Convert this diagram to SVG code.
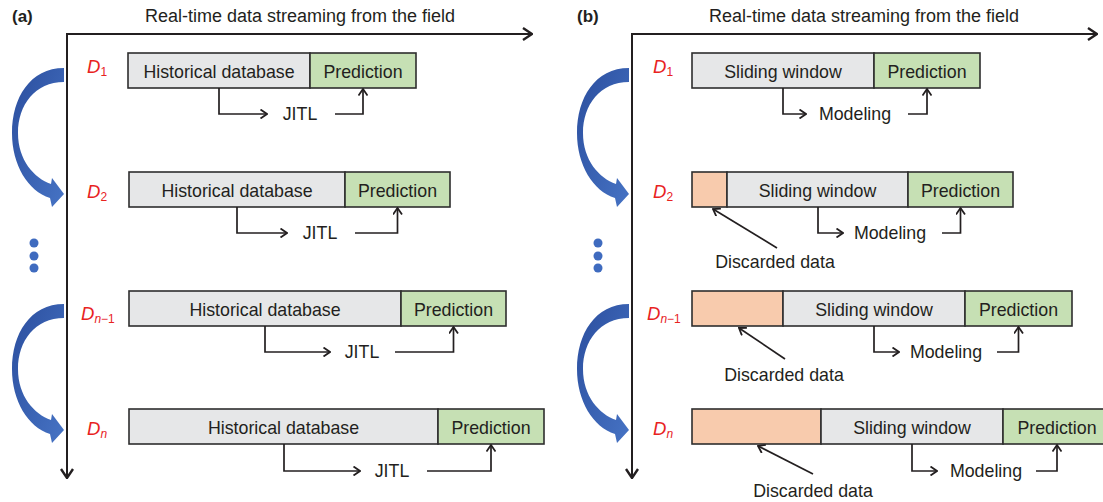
<svg xmlns="http://www.w3.org/2000/svg" width="1103" height="502" viewBox="0 0 1103 502">
  <style>
    text { font-family: "Liberation Sans", Arial, sans-serif; fill: #231F20; }
    .t { font-size: 17.8px; text-anchor: middle; }
    .title { font-size: 18px; text-anchor: middle; }
    .panel { font-size: 17px; font-weight: bold; }
    .lab { font-size: 18.5px; font-style: italic; fill: #E8231F; }
    .sub { font-size: 12px; font-style: normal; fill: #E8231F; }
    .subi { font-size: 12px; font-style: italic; fill: #E8231F; }
    .hist { fill: #E6E7E8; stroke: #2E2E2E; stroke-width: 1.6; }
    .pred { fill: #C6E0B4; stroke: #2E2E2E; stroke-width: 1.6; }
    .disc { fill: #F8CBAD; stroke: #2E2E2E; stroke-width: 1.6; }
    .conn { fill: none; stroke: #231F20; stroke-width: 1.7; marker-end: url(#chev); }
    .axis { fill: none; stroke: #231F20; stroke-width: 2; marker-end: url(#axhead); }
    .dot { fill: #3F6BBF; }
  </style>
  <defs>
    <marker id="chev" viewBox="-8 -5 9 10" markerWidth="9" markerHeight="10" refX="0" refY="0" orient="auto" markerUnits="userSpaceOnUse">
      <path d="M-6.5,-4.5 L0,0 L-6.5,4.5" fill="none" stroke="#231F20" stroke-width="1.8"/>
    </marker>
    <marker id="axhead" viewBox="-11 -7 12 14" markerWidth="12" markerHeight="14" refX="0" refY="0" orient="auto" markerUnits="userSpaceOnUse">
      <path d="M-9,-6 L0,0 L-9,6" fill="none" stroke="#231F20" stroke-width="2.4"/>
    </marker>
    <linearGradient id="blue" x1="0" y1="0" x2="1" y2="1">
      <stop offset="0" stop-color="#2B4E9E"/>
      <stop offset="1" stop-color="#4673C4"/>
    </linearGradient>
    <!-- curved block arrow stepping from one dataset to the next -->
    <path id="step" d="M64,68 C30,68 12,98 12,133 C12,165 28,191 50,198 L52,207 L64,194 L52,178 L51,184 C34,178 18,160 18,133 C18,105 35,82 64,82 Z" fill="url(#blue)"/>
  </defs>

  <!-- ===== Panel (a): just-in-time learning ===== -->
  <g id="panel-a-frame">
    <text class="panel" x="12" y="22">(a)</text>
    <text class="title" x="300" y="22">Real-time data streaming from the field</text>
    <path class="axis" d="M66,34 H532"/>
    <path class="axis" d="M67,33 V478"/>
    <use href="#step"/>
    <use href="#step" y="236"/>
    <circle class="dot" cx="34" cy="243" r="4.5"/>
    <circle class="dot" cx="34" cy="256" r="4.5"/>
    <circle class="dot" cx="34" cy="268" r="4.5"/>
  </g>

  <g id="a-d1">
    <text class="lab" x="87" y="73">D<tspan class="sub" dy="3">1</tspan></text>
    <rect class="hist" x="128" y="53" width="182" height="35"/>
    <rect class="pred" x="310" y="53" width="106" height="35"/>
    <text class="t" x="219" y="78">Historical database</text>
    <text class="t" x="363" y="78">Prediction</text>
    <text class="t" x="300" y="120">JITL</text>
  </g>
  <g id="a-d2">
    <text class="lab" x="87" y="198">D<tspan class="sub" dy="3">2</tspan></text>
    <rect class="hist" x="129" y="172" width="216" height="35"/>
    <rect class="pred" x="345" y="172" width="105" height="35"/>
    <text class="t" x="237" y="197">Historical database</text>
    <text class="t" x="397.5" y="197">Prediction</text>
    <text class="t" x="320" y="239">JITL</text>
  </g>
  <g id="a-dn1">
    <text class="lab" x="81" y="320">D<tspan class="subi" dy="3">n</tspan><tspan class="sub">−1</tspan></text>
    <rect class="hist" x="129" y="291" width="272" height="35"/>
    <rect class="pred" x="401" y="291" width="105" height="35"/>
    <text class="t" x="265" y="316">Historical database</text>
    <text class="t" x="453.5" y="316">Prediction</text>
    <text class="t" x="362" y="358">JITL</text>
  </g>
  <g id="a-dn">
    <text class="lab" x="87" y="435">D<tspan class="subi" dy="3">n</tspan></text>
    <rect class="hist" x="129" y="409" width="309" height="35"/>
    <rect class="pred" x="438" y="409" width="106" height="35"/>
    <text class="t" x="283.5" y="434">Historical database</text>
    <text class="t" x="491" y="434">Prediction</text>
    <text class="t" x="392" y="477">JITL</text>
  </g>

  <!-- ===== Panel (b): sliding window ===== -->
  <g id="panel-b-frame">
    <text class="panel" x="577" y="22">(b)</text>
    <text class="title" x="864" y="22">Real-time data streaming from the field</text>
    <path class="axis" d="M631,34 H1097"/>
    <path class="axis" d="M632,33 V478"/>
    <use href="#step" x="565"/>
    <use href="#step" x="565" y="236"/>
    <circle class="dot" cx="598" cy="243" r="4.5"/>
    <circle class="dot" cx="598" cy="256" r="4.5"/>
    <circle class="dot" cx="598" cy="268" r="4.5"/>
  </g>

  <g id="b-d1">
    <text class="lab" x="653" y="73">D<tspan class="sub" dy="3">1</tspan></text>
    <rect class="hist" x="692" y="53" width="182" height="35"/>
    <rect class="pred" x="874" y="53" width="106" height="35"/>
    <text class="t" x="783" y="78">Sliding window</text>
    <text class="t" x="927" y="78">Prediction</text>
    <text class="t" x="855" y="120">Modeling</text>
  </g>
  <g id="b-d2">
    <text class="lab" x="653" y="198">D<tspan class="sub" dy="3">2</tspan></text>
    <rect class="disc" x="692" y="172" width="35" height="35"/>
    <rect class="hist" x="727" y="172" width="181" height="35"/>
    <rect class="pred" x="908" y="172" width="105" height="35"/>
    <text class="t" x="817.5" y="197">Sliding window</text>
    <text class="t" x="960.5" y="197">Prediction</text>
    <text class="t" x="890" y="239">Modeling</text>
    <text class="t" x="775" y="268">Discarded data</text>
  </g>
  <g id="b-dn1">
    <text class="lab" x="647" y="320">D<tspan class="subi" dy="3">n</tspan><tspan class="sub">−1</tspan></text>
    <rect class="disc" x="692" y="291" width="91" height="35"/>
    <rect class="hist" x="783" y="291" width="182" height="35"/>
    <rect class="pred" x="965" y="291" width="107" height="35"/>
    <text class="t" x="874" y="316">Sliding window</text>
    <text class="t" x="1018.5" y="316">Prediction</text>
    <text class="t" x="946" y="358">Modeling</text>
    <text class="t" x="784" y="381">Discarded data</text>
  </g>
  <g id="b-dn">
    <text class="lab" x="653" y="435">D<tspan class="subi" dy="3">n</tspan></text>
    <rect class="disc" x="692" y="409" width="129" height="35"/>
    <rect class="hist" x="821" y="409" width="182" height="35"/>
    <rect class="pred" x="1003" y="409" width="108" height="35"/>
    <text class="t" x="912" y="434">Sliding window</text>
    <text class="t" x="1057" y="434">Prediction</text>
    <text class="t" x="986" y="477">Modeling</text>
    <text class="t" x="813" y="497">Discarded data</text>
  </g>

  <!-- connectors -->
  <g id="connectors">
    <path class="conn" d="M219,88 V114 H267"/>
    <path class="conn" d="M335,114 H363 V89"/>
    <path class="conn" d="M237,207 V233 H287"/>
    <path class="conn" d="M355,233 H397.5 V208"/>
    <path class="conn" d="M265,326 V352 H330"/>
    <path class="conn" d="M395,352 H453.5 V327"/>
    <path class="conn" d="M284,444 V471 H360"/>
    <path class="conn" d="M427,471 H491 V445"/>

    <path class="conn" d="M783,88 V114 H806"/>
    <path class="conn" d="M908,114 H927 V89"/>
    <path class="conn" d="M818,207 V233 H843"/>
    <path class="conn" d="M942,233 H960.5 V208"/>
    <path class="conn" d="M874,326 V352 H899"/>
    <path class="conn" d="M997,352 H1018.5 V327"/>
    <path class="conn" d="M912,444 V471 H937"/>
    <path class="conn" d="M1036,471 H1057 V445"/>

    <path class="conn" d="M777,248 L713,209"/>
    <path class="conn" d="M785,359 L739,328"/>
    <path class="conn" d="M813,474 L758,446"/>
  </g>
</svg>
